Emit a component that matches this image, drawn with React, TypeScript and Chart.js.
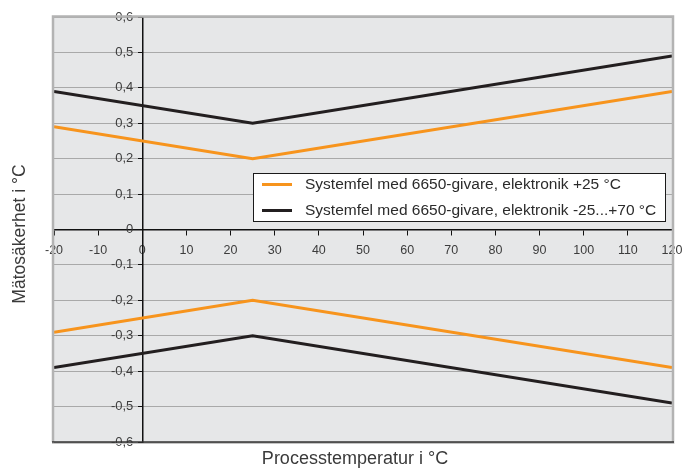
import React, { useEffect, useRef } from "react";
import { Chart, registerables } from "chart.js";

Chart.register(...registerables);

// ---- data ----
const temperatures = [-20, 25, 120];
const errElectronic25Upper = [0.29, 0.2, 0.39];
const errElectronic25Lower = [-0.29, -0.2, -0.39];
const errElectronicRangeUpper = [0.39, 0.3, 0.49];
const errElectronicRangeLower = [-0.39, -0.3, -0.49];

const seriesLabels = [
  "Systemfel med 6650-givare, elektronik +25 °C",
  "Systemfel med 6650-givare, elektronik -25...+70 °C",
];
const seriesColors = ["#f7941d", "#231f20"];

const xTicks = [-20, -10, 0, 10, 20, 30, 40, 50, 60, 70, 80, 90, 100, 110, 120];
const yTicks = [-0.6, -0.5, -0.4, -0.3, -0.2, -0.1, 0, 0.1, 0.2, 0.3, 0.4, 0.5, 0.6];

const xTitle = "Processtemperatur i °C";
const yTitle = "Mätosäkerhet i °C";

const FONT = "'Liberation Sans', Arial, Helvetica, sans-serif";

const toPoints = (xs: number[], ys: number[]) => xs.map((x, i) => ({ x, y: ys[i] }));

const fmtY = (v: number) => {
  const n = Math.round(v * 10) / 10;
  if (n === 0) return "0";
  return n.toFixed(1).replace(".", ",");
};

const decorPlugin = {
  id: "decor",
  beforeDraw(chart: any) {
    const { ctx, chartArea } = chart;
    // shift y tick labels to the left of the tick marks
    const ys = chart.scales.y;
    const items = ys.getLabelItems(chartArea);
    if (!(items as any)._shifted) {
      items.forEach((it: any) => {
        it.options.translation = [it.options.translation[0] - 9, it.options.translation[1]];
      });
      (items as any)._shifted = true;
    }
    ctx.save();
    ctx.fillStyle = "#e6e7e8";
    ctx.fillRect(chartArea.left, chartArea.top, chartArea.right - chartArea.left, chartArea.bottom - chartArea.top);
    ctx.restore();
  },
  afterDatasetsDraw(chart: any) {
    const { ctx, chartArea } = chart;
    const { left, right, top, bottom } = chartArea;
    ctx.save();
    // frame
    ctx.strokeStyle = "#b3b3b3";
    ctx.lineWidth = 2.5;
    ctx.beginPath();
    ctx.moveTo(left - 1, bottom);
    ctx.lineTo(left - 1, top - 0.5);
    ctx.lineTo(right + 1, top - 0.5);
    ctx.lineTo(right + 1, bottom + 2);
    ctx.stroke();
    ctx.strokeStyle = "#c4c4c4";
    ctx.lineWidth = 1;
    ctx.beginPath();
    ctx.moveTo(left - 2, bottom + 1.5);
    ctx.lineTo(right + 2, bottom + 1.5);
    ctx.stroke();
    ctx.strokeStyle = "#333333";
    ctx.lineWidth = 1.5;
    ctx.beginPath();
    ctx.moveTo(left - 2, bottom);
    ctx.lineTo(right + 2, bottom);
    ctx.stroke();

    // legend
    const fontSize = 15.5;
    ctx.font = `${fontSize}px ${FONT}`;
    const labels = chart.data.datasets.slice(0, 2).map((d: any) => d.label);
    const colors = chart.data.datasets.slice(0, 2).map((d: any) => d.borderColor);
    const textW = Math.max(...labels.map((l: string) => ctx.measureText(l).width));
    const padL = 9;
    const lineLen = 30;
    const gap = 13;
    const padR = 9;
    const boxW = padL + lineLen + gap + textW + padR;
    const boxH = 48;
    const boxLeft = left + 199;
    const boxTop = top + 156;
    ctx.fillStyle = "#ffffff";
    ctx.fillRect(boxLeft, boxTop, boxW, boxH);
    ctx.strokeStyle = "#1a1a1a";
    ctx.lineWidth = 1;
    ctx.strokeRect(Math.round(boxLeft) + 0.5, Math.round(boxTop) + 0.5, Math.round(boxW), boxH);
    labels.forEach((lab: string, i: number) => {
      const cy = boxTop + 11.5 + i * 26;
      ctx.strokeStyle = colors[i];
      ctx.lineWidth = 3;
      ctx.beginPath();
      ctx.moveTo(boxLeft + padL, cy);
      ctx.lineTo(boxLeft + padL + lineLen, cy);
      ctx.stroke();
      ctx.fillStyle = "#2b2b2b";
      ctx.textBaseline = "middle";
      ctx.textAlign = "left";
      ctx.fillText(lab, boxLeft + padL + lineLen + gap, cy);
    });

    // axis titles
    ctx.fillStyle = "#3a3a3a";
    ctx.textAlign = "center";
    ctx.textBaseline = "middle";
    ctx.font = `18px ${FONT}`;
    ctx.fillText(xTitle, 355, 459);
    ctx.font = `17.5px ${FONT}`;
    ctx.translate(20, 234);
    ctx.rotate(-Math.PI / 2);
    ctx.fillText(yTitle, 0, 0);
    ctx.restore();
  },
};

export default function App() {
  const canvasRef = useRef<HTMLCanvasElement | null>(null);

  useEffect(() => {
    if (!canvasRef.current) return;
    Chart.defaults.font.family = FONT;
    const mk = (label: string, color: string, ys: number[]) => ({
      label,
      data: toPoints(temperatures, ys),
      borderColor: color,
      backgroundColor: color,
      borderWidth: 3,
      pointRadius: 0,
      tension: 0,
      fill: false,
    });
    const chart = new Chart(canvasRef.current, {
      type: "line",
      data: {
        datasets: [
          mk(seriesLabels[0], seriesColors[0], errElectronic25Upper),
          mk(seriesLabels[1], seriesColors[1], errElectronicRangeUpper),
          mk(seriesLabels[0], seriesColors[0], errElectronic25Lower),
          mk(seriesLabels[1], seriesColors[1], errElectronicRangeLower),
        ],
      },
      options: {
        responsive: false,
        animation: false,
        layout: { padding: { left: 54, right: 12, top: 17, bottom: 27 } },
        plugins: {
          legend: { display: false },
          tooltip: { enabled: false },
        },
        scales: {
          x: {
            type: "linear",
            position: { y: 0 } as any,
            min: -20,
            max: 120,
            afterBuildTicks: (scale: any) => {
              scale.ticks = xTicks.map((v) => ({ value: v }));
            },
            afterFit: (scale: any) => {
              scale.paddingLeft = 0;
              scale.paddingRight = 0;
            },
            ticks: {
              autoSkip: false,
              maxRotation: 0,
              padding: 9,
              color: "#3c3c3c",
              font: { size: 12.5, family: FONT },
              callback: (v: any) => String(v),
            },
            grid: {
              drawOnChartArea: false,
              drawTicks: true,
              tickLength: 5,
              tickColor: "#111111",
              tickWidth: 1,
            },
            border: { display: true, color: "#111111", width: 1.5 },
          },
          y: {
            type: "linear",
            position: { x: 0 } as any,
            min: -0.6,
            max: 0.6,
            afterBuildTicks: (scale: any) => {
              scale.ticks = yTicks.map((v) => ({ value: v }));
            },
            afterFit: (scale: any) => {
              scale.paddingTop = 0;
              scale.paddingBottom = 0;
            },
            ticks: {
              autoSkip: false,
              padding: 5,
              color: "#3c3c3c",
              font: { size: 13, family: FONT },
              callback: (v: any) => fmtY(Number(v)),
            },
            grid: {
              drawOnChartArea: true,
              color: "#a9a9a9",
              lineWidth: 1,
              drawTicks: true,
              tickLength: 4,
              tickColor: "#111111",
              tickWidth: 1,
            },
            border: { display: true, color: "#111111", width: 1.5 },
          },
        },
      },
      plugins: [decorPlugin],
    });
    return () => chart.destroy();
  }, []);

  return (
    <div style={{ position: "absolute", left: 0, top: 0, width: 684, height: 469, background: "#ffffff" }}>
      <canvas ref={canvasRef} width={684} height={469} style={{ display: "block" }} />
    </div>
  );
}
